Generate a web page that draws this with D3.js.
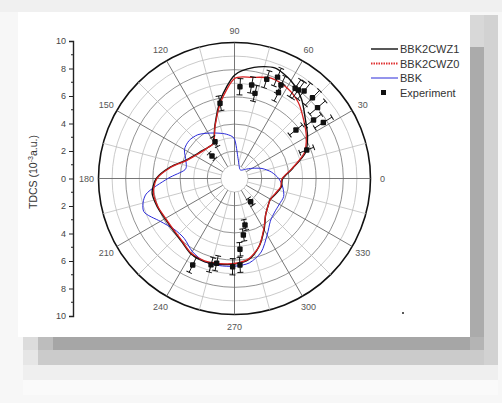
<!DOCTYPE html>
<meta charset="utf-8">
<script src="https://d3js.org/d3.v7.min.js"></script>
<style>
  body { margin: 0; background: #fff; }
  text { font-family: "Liberation Sans", Arial, sans-serif; }
</style>
<div id="my_dataviz"></div>
<script>

// angles of the theory curves (degrees, counter-clockwise from 0)
var angles = [0, 10, 20, 30, 40, 50, 60, 70, 80, 90, 100, 110, 120, 130, 140, 150, 160, 170,
              180, 190, 200, 210, 220, 230, 240, 250, 260, 270, 280, 290, 300, 310, 320, 330, 340, 350];
var z1Values = [3.55, 4.35, 5.55, 6.2, 6.8, 7.65, 8.3, 8.65, 8.3, 7.6, 5.9, 4.2, 3.05, 3.0, 3.15, 3.4, 3.85, 4.8,
                5.75, 6.15, 6.05, 5.9, 5.9, 6.05, 6.4, 6.5, 6.4, 6.3, 6.05, 5.3, 4.35, 3.55, 3.2, 3.05, 3.25, 3.5];
var z0Values = [3.5, 4.3, 5.45, 6.1, 6.65, 7.3, 7.7, 7.85, 7.55, 7.35, 5.75, 4.15, 3.05, 3.0, 3.1, 3.35, 3.8, 4.75,
                5.7, 6.05, 6.0, 5.85, 5.85, 6.0, 6.35, 6.45, 6.35, 6.25, 6.0, 5.3, 4.3, 3.55, 3.2, 3.05, 3.2, 3.45];
var bbkValues = [3.25, 2.75, 2.15, 1.5, 1.05, 0.8, 0.78, 1.0, 1.5, 2.9, 3.3, 3.55, 3.85, 4.2, 4.35, 4.25, 3.8, 3.7,
                 4.9, 6.6, 7.1, 6.3, 5.8, 5.75, 6.2, 6.5, 6.5, 6.45, 6.3, 5.75, 4.8, 4.1, 3.85, 3.8, 3.85, 3.6];

// experiment
var expAngles = [100.9, 117.9, 135, 86.6, 79.6, 76.5, 72, 67, 63.6, 62.9, 56.1, 54.2, 51.5, 46, 40.5, 36.5, 32.2,
                 38.3, 21.5, 304.9, 282.7, 278.9, 274.4, 273.6, 268.8, 258.1, 254.8, 244.2];
var expValues = [5.63, 3.06, 2.34, 6.76, 6.99, 6.44, 7.67, 8.1, 7.68, 7.1, 7.99, 8.02, 8.22, 8.25, 8.03, 7.23, 7.72,
                 5.76, 5.71, 2.08, 3.5, 4.2, 5.22, 6.37, 6.49, 6.37, 6.58, 7.06];
var expErrors = [0.55, 0.4, 0.3, 0.6, 0.6, 0.6, 0.65, 0.7, 0.7, 0.7, 0.75, 0.75, 0.75, 0.75, 0.75, 0.7, 0.75,
                 0.6, 0.55, 0.3, 0.4, 0.45, 0.5, 0.55, 0.6, 0.55, 0.55, 0.6];

var radialTicks = [1, 2, 3, 4, 5, 6, 7, 8, 9, 10];
var angleTicks = [0, 30, 60, 90, 120, 150, 180, 210, 240, 270, 300, 330];
var minorAngleTicks = [15, 45, 75, 105, 135, 165, 195, 225, 255, 285, 315, 345];
var axisTicks = [-10, -8, -6, -4, -2, 0, 2, 4, 6, 8, 10];
var axisMinorTicks = [-9, -7, -5, -3, -1, 1, 3, 5, 7, 9];
var legendNames = ["BBK2CWZ1", "BBK2CWZ0", "BBK", "Experiment"];

var W = 502, H = 403;
var cx = 234.5, cy = 178.5, R = 136;

var svg = d3.select("#my_dataviz")
  .append("svg")
    .attr("width", W)
    .attr("height", H);

// screenshot frame with its blocky shadow
svg.append("rect").attr("width", W).attr("height", H).attr("fill", "#f7f7f7");
svg.append("rect").attr("x", 0).attr("y", 0).attr("width", W).attr("height", 12).attr("fill", "#f0f0f0");
svg.append("rect").attr("x", 484).attr("y", 15).attr("width", 14).attr("height", 350).attr("fill", "#d2d2d2");
svg.append("rect").attr("x", 470).attr("y", 15).attr("width", 14).attr("height", 32).attr("fill", "#d8d8d8");
svg.append("rect").attr("x", 470).attr("y", 47).attr("width", 14).attr("height", 290).attr("fill", "#ababab");
svg.append("rect").attr("x", 23).attr("y", 365).attr("width", 475).attr("height", 15).attr("fill", "#efefef");
svg.append("rect").attr("x", 23).attr("y", 380).attr("width", 475).attr("height", 15).attr("fill", "#fafafa");
svg.append("rect").attr("x", 23).attr("y", 350).attr("width", 461).attr("height", 15).attr("fill", "#e6e6e6");
svg.append("rect").attr("x", 38).attr("y", 350).attr("width", 446).attr("height", 15).attr("fill", "#cbcbcb");
svg.append("rect").attr("x", 23).attr("y", 337).attr("width", 461).attr("height", 13).attr("fill", "#dcdcdc");
svg.append("rect").attr("x", 38).attr("y", 337).attr("width", 15).attr("height", 13).attr("fill", "#bdbdbd");
svg.append("rect").attr("x", 53).attr("y", 337).attr("width", 417).attr("height", 13).attr("fill", "#a6a6a6");
svg.append("rect").attr("x", 470).attr("y", 337).attr("width", 14).attr("height", 13).attr("fill", "#b4b4b4");
svg.append("rect").attr("x", 18).attr("y", 12).attr("width", 452).attr("height", 325).attr("fill", "#fff");

// scales
var r = d3.scaleLinear().domain([0, 10]).range([0, R]);
// data angle (deg, ccw from east) -> d3 radial angle (rad, cw from north)
var a = d3.scaleLinear().domain([0, 360]).range([Math.PI / 2, Math.PI / 2 - 2 * Math.PI]);
var y = d3.scaleLinear().domain([-10, 10]).range([316, 41]);

var g = svg.append("g").attr("transform", "translate(" + cx + "," + cy + ")");

// grid circles
g.selectAll(".ring")
  .data(radialTicks)
  .enter().append("circle")
    .attr("r", function(d) { return r(d); })
    .attr("fill", "none")
    .attr("stroke", function(d) { return d == 10 ? "#111" : (d % 2 == 0 ? "#777" : "#bdbdbd"); })
    .attr("stroke-width", function(d) { return d == 10 ? 1.6 : 0.8; });

// spokes
g.selectAll(".minorSpoke")
  .data(minorAngleTicks)
  .enter().append("line")
    .attr("x1", function(d) { return d3.pointRadial(a(d), r(1))[0]; })
    .attr("y1", function(d) { return d3.pointRadial(a(d), r(1))[1]; })
    .attr("x2", function(d) { return d3.pointRadial(a(d), r(10))[0]; })
    .attr("y2", function(d) { return d3.pointRadial(a(d), r(10))[1]; })
    .attr("stroke", "#bdbdbd")
    .attr("stroke-width", 0.8);

g.selectAll(".spoke")
  .data(angleTicks)
  .enter().append("line")
    .attr("x1", function(d) { return d3.pointRadial(a(d), r(1))[0]; })
    .attr("y1", function(d) { return d3.pointRadial(a(d), r(1))[1]; })
    .attr("x2", function(d) { return d3.pointRadial(a(d), r(10))[0]; })
    .attr("y2", function(d) { return d3.pointRadial(a(d), r(10))[1]; })
    .attr("stroke", "#666")
    .attr("stroke-width", 0.9);

// angle labels
g.selectAll(".alabel")
  .data(angleTicks)
  .enter().append("text")
    .attr("x", function(d) { return d3.pointRadial(a(d), R + 12)[0]; })
    .attr("y", function(d) { return d3.pointRadial(a(d), R + 12)[1] + 3; })
    .attr("text-anchor", "middle")
    .attr("font-size", 9)
    .attr("fill", "#555")
    .text(function(d) { return d; });

// curves
function curvePath(values) {
  var pts = angles.map(function(d, i) { return [a(d), r(values[i])]; });
  return d3.lineRadial().curve(d3.curveCardinalClosed.tension(0.2))(pts);
}

g.append("path").attr("d", curvePath(bbkValues))
  .attr("fill", "none").attr("stroke", "#2b2bd9").attr("stroke-width", 1);
g.append("path").attr("d", curvePath(z1Values))
  .attr("fill", "none").attr("stroke", "#111").attr("stroke-width", 1.4);
g.append("path").attr("d", curvePath(z0Values))
  .attr("fill", "none").attr("stroke", "#d62020").attr("stroke-width", 1.3);

// experiment with radial error bars
var expData = expAngles.map(function(d, i) { return {t: d, v: expValues[i], e: expErrors[i]}; });
var eb = g.selectAll(".exp").data(expData).enter().append("g");
eb.append("line")
  .attr("x1", function(d) { return d3.pointRadial(a(d.t), r(d.v - d.e))[0]; })
  .attr("y1", function(d) { return d3.pointRadial(a(d.t), r(d.v - d.e))[1]; })
  .attr("x2", function(d) { return d3.pointRadial(a(d.t), r(d.v + d.e))[0]; })
  .attr("y2", function(d) { return d3.pointRadial(a(d.t), r(d.v + d.e))[1]; })
  .attr("stroke", "#111").attr("stroke-width", 1);
[-1, 1].forEach(function(s) {
  eb.append("line")
    .attr("transform", function(d) {
      var p = d3.pointRadial(a(d.t), r(d.v + s * d.e));
      return "translate(" + p[0] + "," + p[1] + ") rotate(" + (-d.t) + ")";
    })
    .attr("x1", 0).attr("y1", -3).attr("x2", 0).attr("y2", 3)
    .attr("stroke", "#111").attr("stroke-width", 1);
});
eb.append("rect")
  .attr("x", function(d) { return d3.pointRadial(a(d.t), r(d.v))[0] - 2.7; })
  .attr("y", function(d) { return d3.pointRadial(a(d.t), r(d.v))[1] - 2.7; })
  .attr("width", 5.4).attr("height", 5.4)
  .attr("rx", 1)
  .attr("fill", "#111");

// left axis
var yAxis = svg.append("g").attr("transform", "translate(73,0)");
yAxis.call(d3.axisLeft(y).tickValues(axisTicks).tickSize(4).tickPadding(3)
  .tickFormat(function(d) { return Math.abs(d); }));
yAxis.selectAll(".minor")
  .data(axisMinorTicks)
  .enter().append("line")
    .attr("x1", -2).attr("x2", 0)
    .attr("y1", function(d) { return y(d); }).attr("y2", function(d) { return y(d); })
    .attr("stroke", "#222");
yAxis.select(".domain").attr("stroke", "#222").attr("stroke-width", 1.4);
yAxis.selectAll(".tick line").attr("stroke", "#222");
yAxis.selectAll(".tick text").attr("font-size", 9).attr("fill", "#444")
  .attr("font-family", "'Liberation Sans', Arial, sans-serif");

var title = svg.append("text")
  .attr("transform", "translate(37,172) rotate(-90)")
  .attr("text-anchor", "middle")
  .attr("font-size", 10.5)
  .attr("fill", "#333");
title.append("tspan").text("TDCS (10");
title.append("tspan").attr("font-size", 7).attr("dy", -4).text("-3");
title.append("tspan").attr("dy", 4).text("a.u.)");

// legend
var legend = svg.append("g");
var lg = legend.selectAll(".leg").data(legendNames).enter().append("g")
  .attr("transform", function(d, i) { return "translate(0," + (49 + i * 14.5) + ")"; });
lg.filter(function(d, i) { return i < 3; }).append("line")
  .attr("x1", 371).attr("x2", 398).attr("y1", 0).attr("y2", 0)
  .attr("stroke", function(d, i) { return ["#111", "#e03030", "#2b2bd9"][i]; })
  .attr("stroke-width", function(d, i) { return [1.4, 2, 1][i]; })
  .attr("stroke-dasharray", function(d, i) { return i == 1 ? "1.5,1" : null; });
lg.filter(function(d, i) { return i == 3; }).append("rect")
  .attr("x", 381).attr("y", -2.5).attr("width", 5).attr("height", 5).attr("fill", "#111");
lg.append("text")
  .attr("x", 400).attr("y", 4)
  .attr("font-size", 11)
  .attr("fill", "#333")
  .text(function(d) { return d; });

// stray dot
svg.append("circle").attr("cx", 403).attr("cy", 313).attr("r", 1).attr("fill", "#222");

</script>
